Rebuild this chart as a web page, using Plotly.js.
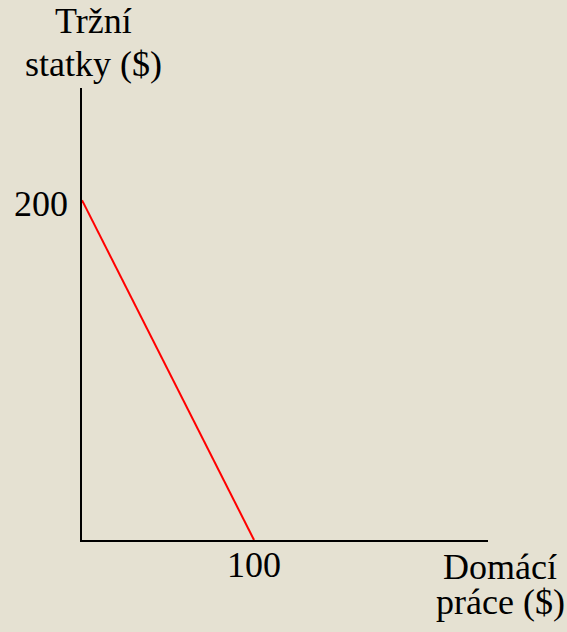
<!DOCTYPE html>
<html>
<head>
<meta charset="utf-8">
<script src="https://cdn.plot.ly/plotly-3.0.1.min.js"></script>
<style>html,body{margin:0;padding:0;background:#E5E1D2;}</style>
</head>
<body>
<div id="chart" style="width:567px;height:632px;"></div>
<script>
// Budget line: market goods vs. home production
const lineX = [0, 100];
const lineY = [200, 0];
const yTickVals = [200];
const yTickText = ["200"];
const xTickVals = [100];
const xTickText = ["100"];
const yAxisTitleLines = ["Tržní", "statky ($)"];
const xAxisTitleLines = ["Domácí", "práce ($)"];

const font = {family: "Liberation Serif", size: 36, color: "#000000"};

const annotations = [];
yTickVals.forEach((v, i) => annotations.push({
  x: 0, xref: "paper", y: v, yref: "y", text: yTickText[i],
  showarrow: false, xanchor: "right", yanchor: "middle", xshift: -12, yshift: -4, font: font
}));
xTickVals.forEach((v, i) => annotations.push({
  x: v, xref: "x", y: 0, yref: "paper", text: xTickText[i],
  showarrow: false, xanchor: "center", yanchor: "middle", yshift: -25, font: font
}));
const yTitleShifts = [67, 24];
yAxisTitleLines.forEach((t, i) => annotations.push({
  x: (93 - 82) / 406, xref: "paper", y: 1, yref: "paper", text: t,
  showarrow: false, xanchor: "center", yanchor: "middle", yshift: yTitleShifts[i], font: font
}));
const xTitleShifts = [-27, -62];
xAxisTitleLines.forEach((t, i) => annotations.push({
  x: (500 - 82) / 406, xref: "paper", y: 0, yref: "paper", text: t,
  showarrow: false, xanchor: "center", yanchor: "middle", yshift: xTitleShifts[i], font: font
}));

Plotly.newPlot("chart", [{
  x: lineX, y: lineY, type: "scatter", mode: "lines",
  line: {color: "#FF0000", width: 2}, hoverinfo: "skip"
}], {
  width: 567, height: 632,
  font: font,
  paper_bgcolor: "#E5E1D2", plot_bgcolor: "#E5E1D2",
  margin: {l: 82, r: 79, t: 88, b: 92},
  showlegend: false,
  xaxis: {range: [0, 236], showline: true, linecolor: "#000", linewidth: 2,
          showgrid: false, zeroline: false, showticklabels: false, ticks: ""},
  yaxis: {range: [0, 266], showline: true, linecolor: "#000", linewidth: 2,
          showgrid: false, zeroline: false, showticklabels: false, ticks: ""},
  annotations: annotations
}, {displayModeBar: false, staticPlot: true});
</script>
</body>
</html>
